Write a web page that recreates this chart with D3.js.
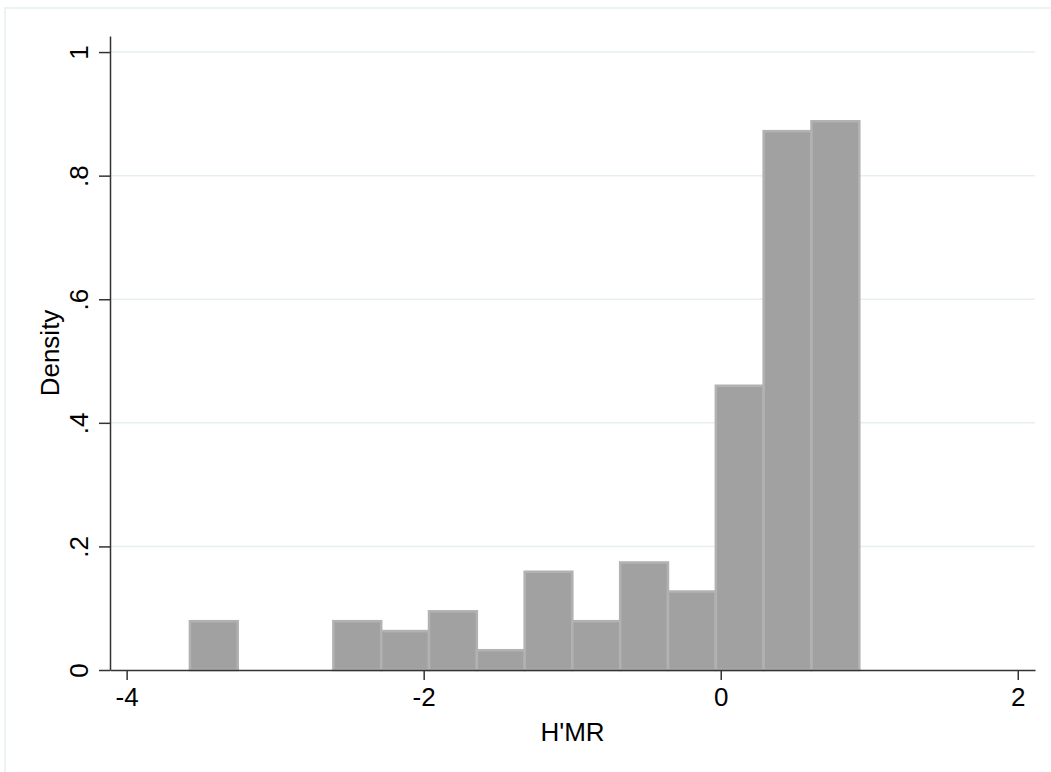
<!DOCTYPE html>
<html>
<head>
<meta charset="utf-8">
<script src="https://cdn.jsdelivr.net/npm/d3@7"></script>
<style>
  body { margin: 0; background: #fff; }
  text { font-family: Arial, "Liberation Sans", sans-serif; fill: #000; }
</style>
</head>
<body>
<div id="chart"></div>
<script>
// histogram bins (left edges + last right edge) and densities
const binEdges = [-3.574, -3.252, -2.930, -2.608, -2.286, -1.964, -1.642, -1.320, -0.999, -0.677, -0.355, -0.033, 0.289, 0.611, 0.933];
const density = [0.079, 0, 0, 0.079, 0.063, 0.095, 0.032, 0.159, 0.079, 0.174, 0.127, 0.460, 0.872, 0.888];
const xTicks = [-4, -2, 0, 2];
const yTicks = [0, 0.2, 0.4, 0.6, 0.8, 1];
const yTickLabels = ["0", ".2", ".4", ".6", ".8", "1"];

const width = 1051, height = 772;
const plotL = 110, plotR = 1035, plotT = 36, plotB = 670;
const fs = 26;

const svg = d3.select("#chart")
  .append("svg")
  .attr("width", width)
  .attr("height", height);

// outer frame
svg.append("rect")
  .attr("x", 5).attr("y", 8)
  .attr("width", 1100).attr("height", 800)
  .attr("fill", "none")
  .attr("stroke", "#e6eff1")
  .attr("stroke-width", 1.5);

const x = d3.scaleLinear().domain([-4.112, 2.116]).range([plotL, plotR]);
const y = d3.scaleLinear().domain([0, 1.026]).range([plotB, plotT]);

// gridlines
svg.append("g")
  .selectAll("line")
  .data(yTicks.filter(d => d > 0))
  .join("line")
  .attr("x1", plotL).attr("x2", plotR)
  .attr("y1", d => y(d)).attr("y2", d => y(d))
  .attr("stroke", "#e6eff1")
  .attr("stroke-width", 1.5);

// bars
const bins = density.map((d, i) => ({ x0: binEdges[i], x1: binEdges[i + 1], v: d }))
  .filter(d => d.v > 0);

svg.append("g")
  .selectAll("rect")
  .data(bins)
  .join("rect")
  .attr("x", d => x(d.x0))
  .attr("width", d => x(d.x1) - x(d.x0))
  .attr("y", d => y(d.v))
  .attr("height", d => y(0) - y(d.v))
  .attr("fill", "#a1a1a1")
  .attr("stroke", "#b2b2b2")
  .attr("stroke-width", 2.5);

// x axis
const xAxis = svg.append("g")
  .attr("transform", `translate(0, ${plotB})`)
  .call(d3.axisBottom(x).tickValues(xTicks).tickSize(10).tickSizeOuter(0).tickFormat(d3.format("d")));
xAxis.select(".domain").attr("stroke", "#333").attr("stroke-width", 1.5);
xAxis.selectAll(".tick line").attr("stroke", "#333").attr("stroke-width", 1.5);
xAxis.selectAll(".tick text")
  .attr("y", 18)
  .attr("font-size", fs)
  .attr("font-family", "Arial, 'Liberation Sans', sans-serif")
  .text(d => d < 0 ? "-" + Math.abs(d) : d);

// y axis
const yAxis = svg.append("g")
  .attr("transform", `translate(${plotL}, 0)`)
  .call(d3.axisLeft(y).tickValues(yTicks).tickSize(11).tickSizeOuter(0).tickFormat((d, i) => yTickLabels[i]));
yAxis.select(".domain").attr("stroke", "#333").attr("stroke-width", 1.5);
yAxis.selectAll(".tick line").attr("stroke", "#333").attr("stroke-width", 1.5);
yAxis.selectAll(".tick text")
  .attr("x", null).attr("dy", null)
  .attr("text-anchor", "middle")
  .attr("transform", "translate(-31, 0) rotate(-90)")
  .attr("dy", "0.35em")
  .attr("font-size", fs)
  .attr("font-family", "Arial, 'Liberation Sans', sans-serif");

// axis titles
svg.append("text")
  .attr("x", (plotL + plotR) / 2)
  .attr("y", 741)
  .attr("text-anchor", "middle")
  .attr("font-size", fs)
  .text("H'MR");

svg.append("text")
  .attr("transform", `translate(59, ${(plotT + plotB) / 2}) rotate(-90)`)
  .attr("text-anchor", "middle")
  .attr("font-size", fs)
  .text("Density");
</script>
</body>
</html>
